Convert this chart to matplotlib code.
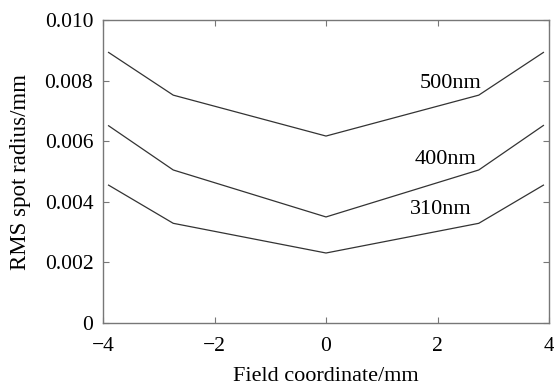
import numpy as np
import matplotlib
matplotlib.use("Agg")
import matplotlib.pyplot as plt

# field positions (mm) and RMS spot radius (mm) per wavelength
field = [-3.9, -2.74, 0, 2.74, 3.9]
rms_500 = [0.00893, 0.00752, 0.00617, 0.00752, 0.00893]
rms_400 = [0.00651, 0.00505, 0.00350, 0.00505, 0.00652]
rms_310 = [0.00455, 0.00329, 0.00231, 0.00329, 0.00455]
labels = ["500nm", "400nm", "310nm"]
label_pos = [(2.24, 0.00792), (2.15, 0.00538), (2.06, 0.00373)]

plt.rcParams['font.family'] = ['Liberation Serif', 'DejaVu Serif']
plt.rcParams['axes.unicode_minus'] = True

fig = plt.figure(figsize=(5.54, 3.87), dpi=100)
ax = fig.add_axes([103 / 554, 1 - 323 / 387, 446 / 554, 303 / 387])

for ys in (rms_500, rms_400, rms_310):
    ax.plot(field, ys, color="#333333", lw=0.9)

for txt, (x, y) in zip(labels, label_pos):
    ax.text(x, y, txt, ha="center", va="center", fontsize=16)

ax.set_xlim(-4, 4)
ax.set_ylim(0, 0.010)
ax.set_xticks([-4, -2, 0, 2, 4])
ax.set_yticks([0, 0.002, 0.004, 0.006, 0.008, 0.010])
ax.set_yticklabels(["0", "0.002", "0.004", "0.006", "0.008", "0.010"])
ax.tick_params(direction="in", top=True, right=True, labelsize=15.5,
               length=4, width=0.8, color="#777777", pad=7)
ax.tick_params(axis="x", pad=10)
for s in ax.spines.values():
    s.set_color("#777777")
    s.set_linewidth(1.0)

ax.set_xlabel("Field coordinate/mm", fontsize=16, labelpad=8)
ax.set_ylabel("RMS spot radius/mm", fontsize=16.5, labelpad=10)

fig.savefig("out.png", dpi=100)
